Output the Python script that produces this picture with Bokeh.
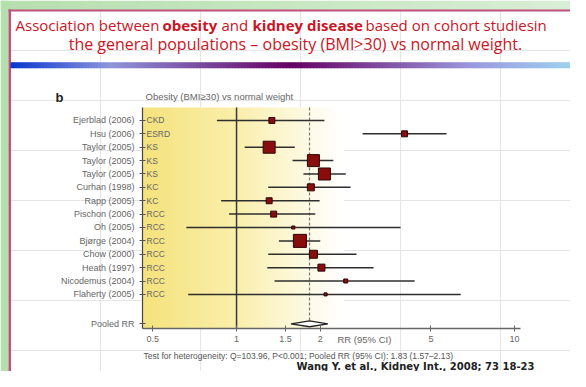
import math
from bokeh.plotting import figure
from bokeh.models import Range1d, FixedTicker, ColumnDataSource, LogAxis, LinearAxis, LogScale
from bokeh.core.properties import value
from bokeh.embed import file_html
from bokeh.resources import INLINE

# ---------------- data ----------------
studies = ["Ejerblad (2006)", "Hsu (2006)", "Taylor (2005)", "Taylor (2005)", "Taylor (2005)",
           "Curhan (1998)", "Rapp (2005)", "Pischon (2006)", "Oh (2005)", "Bjørge (2004)",
           "Chow (2000)", "Heath (1997)", "Nicodemus (2004)", "Flaherty (2005)"]
outcomes = ["CKD", "ESRD", "KS", "KS", "KS", "KC", "KC", "RCC", "RCC", "RCC",
            "RCC", "RCC", "RCC", "RCC"]
rr = [1.34, 4.02, 1.31, 1.89, 2.07, 1.85, 1.31, 1.36, 1.60, 1.69, 1.89, 2.02, 2.47, 2.09]
rr_lo = [0.85, 2.84, 1.07, 1.59, 1.74, 1.30, 0.88, 0.94, 0.66, 1.42, 1.30, 1.29, 1.37, 0.67]
rr_hi = [2.07, 5.69, 1.62, 2.23, 2.47, 2.57, 1.99, 1.92, 3.89, 2.00, 2.70, 3.11, 4.37, 6.40]
weights = [3.8, 3.8, 15.3, 15.3, 15.3, 5.2, 3.8, 3.8, 1.0, 18.0, 6.8, 5.2, 1.7, 1.0]
pooled_rr, pooled_lo, pooled_hi = 1.83, 1.57, 2.13
pooled_label = "Pooled RR"
x_ticks = [0.5, 1, 1.5, 2, 5, 10]
x_tick_labels = ["0.5", "1", "1.5", "2", "5", "10"]

title_parts = ["Association between", "obesity", "and", "kidney disease", "based on cohort studiesin"]
title_bold = [False, True, False, True, False]
title_line2 = "the general populations \u2013  obesity (BMI>30) vs normal weight."
panel_letter = "b"
panel_title = "Obesity (BMI\u226530) vs normal weight"
axis_title = "RR (95% CI)"
footer = "Test for heterogeneity: Q=103.96, P<0.001; Pooled RR (95% CI): 1.83 (1.57\u20132.13)"
citation = "Wang  Y. et al., Kidney Int., 2008; 73 18-23"

# ---------------- layout constants (pixels) ----------------
W, H = 570, 371
PX_L, PX_R = 142, 520          # forest plot area, horizontal
PY_T, PY_B = 107, 328          # forest plot area, vertical
RR_L, RR_R = 0.459, 10.5       # RR limits of the plot area
ROW_T, ROW_B = 0.03, 16.55     # row limits of the plot area
pooled_row = 16.2
rows = list(range(1, len(studies) + 1))

dec_per_px = (math.log10(RR_R) - math.log10(RR_L)) / (PX_R - PX_L)
rr_start = 10 ** (math.log10(RR_L) - PX_L * dec_per_px)
rr_end = 10 ** (math.log10(RR_L) + (W - PX_L) * dec_per_px)
row_per_px = (ROW_B - ROW_T) / (PY_B - PY_T)
rows_bottom = ROW_B + (H - PY_B) * row_per_px
rows_top = ROW_T - PY_T * row_per_px

p = figure(width=W, height=H, x_range=Range1d(0, W), y_range=Range1d(H, 0),
           x_axis_location=None, y_axis_location=None,
           output_backend="svg", toolbar_location=None, min_border=0)
p.extra_x_ranges = {"rr": Range1d(rr_start, rr_end)}
p.extra_x_scales = {"rr": LogScale()}
p.extra_y_ranges = {"rows": Range1d(rows_bottom, rows_top)}
p.outline_line_color = None
p.background_fill_color = "white"
p.border_fill_color = "white"

def hex2rgb(h):
    h = h.lstrip("#")
    return tuple(int(h[i:i + 2], 16) for i in (0, 2, 4))

def interp(stops, x):
    for (x0, c0), (x1, c1) in zip(stops[:-1], stops[1:]):
        if x0 <= x <= x1:
            t = (x - x0) / (x1 - x0) if x1 > x0 else 0
            a, b = hex2rgb(c0), hex2rgb(c1)
            return "#%02x%02x%02x" % tuple(int(round(a[i] + (b[i] - a[i]) * t)) for i in range(3))
    return stops[-1][1]

# ---------------- slide decorations (pixel space) ----------------
L, R, T, B, C = [], [], [], [], []
def box(l, r, t, b, c):
    L.append(l); R.append(r); T.append(t); B.append(b); C.append(c)

green_stops = [(0, "#b6dfae"), (586, "#d9eed6")]
for x in range(0, W, 10):
    box(x, x + 10.6, 0, 9.5, interp(green_stops, x + 5))
box(0, 8, 0, H, "#b6dfae")
box(8, 10.5, 9, H, "#c0507e")
box(8, W, 9, 11, "#c0507e")

bar_stops = [(10, "#0836d0"), (110, "#8f95dc"), (290, "#660062"), (470, "#9a98de"), (586, "#9fd9f2")]
for x in range(10, W, 3):
    box(x, x + 3.6, 61.7, 67.7, interp(bar_stops, x + 1.5))

yellow_stops = [(PX_L, "#f5e27c"), (240, "#faefae"), (340, "#ffffff")]
for x in range(PX_L, 342, 3):
    box(x, x + 3.6, PY_T, PY_B, interp(yellow_stops, x + 1.5))

p.quad(left=L, right=R, top=T, bottom=B, fill_color=C, line_color=None)

# ---------------- forest plot marks ----------------
sizes = [math.sqrt(w * 9.41) for w in weights]
src = ColumnDataSource(dict(row=rows, rr=rr, lo=rr_lo, hi=rr_hi, size=sizes, outcome=outcomes,
                            x0=[RR_L] * len(rows)))
kw = dict(x_range_name="rr", y_range_name="rows")

p.segment(x0=[1], y0=[ROW_T], x1=[1], y1=[ROW_B], line_color="#3a3a3a", line_width=1.5, **kw)
p.segment(x0=[pooled_rr], y0=[ROW_T], x1=[pooled_rr], y1=[pooled_row], line_color="#777777",
          line_width=1.2, line_dash="3 2", **kw)

p.segment(x0="lo", y0="row", x1="hi", y1="row", source=src, line_color="#2e2e2e", line_width=1.5, **kw)
p.scatter(x="rr", y="row", size="size", marker="square", source=src,
          fill_color="#8a0d0d", line_color="#2a0707", line_width=1, **kw)
p.patch(x=[pooled_lo, pooled_rr, pooled_hi, pooled_rr],
        y=[pooled_row, pooled_row - 0.22, pooled_row, pooled_row + 0.22],
        fill_color="white", line_color="#222222", line_width=1.3, **kw)

p.text(x="x0", y="row", text="outcome", source=src, x_offset=4, text_baseline="middle",
       text_font_size="8.5px", text_color="#666666", text_font=value("Liberation Sans"), **kw)

# ---------------- axes ----------------
xa = LogAxis(x_range_name="rr", y_range_name="rows", fixed_location=ROW_B, bounds=(RR_L, RR_R),
             ticker=FixedTicker(ticks=x_ticks))
xa.major_label_overrides = dict(zip(x_ticks, x_tick_labels))
xa.minor_tick_line_color = None
xa.axis_line_color = "#666666"
xa.axis_line_width = 1.5
xa.major_tick_line_color = "#666666"
xa.major_tick_in = 3
xa.major_tick_out = 3
xa.major_label_standoff = 4
xa.major_label_text_font_size = "9px"
xa.major_label_text_color = "#666666"
xa.major_label_text_font = "Liberation Sans"
p.add_layout(xa, "below")

ya = LinearAxis(y_range_name="rows", x_range_name="rr", fixed_location=RR_L, bounds=(ROW_T, ROW_B),
                ticker=FixedTicker(ticks=rows + [pooled_row]))
ov = {r: s for r, s in zip(rows, studies)}
ov[pooled_row] = pooled_label
ya.major_label_overrides = ov
ya.minor_tick_line_color = None
ya.axis_line_color = "#444444"
ya.axis_line_width = 1.2
ya.major_tick_line_color = "#555555"
ya.major_tick_in = 3
ya.major_tick_out = 3
ya.major_label_standoff = 5
ya.major_label_text_font_size = "9px"
ya.major_label_text_color = "#666666"
ya.major_label_text_font = "Liberation Sans"
p.add_layout(ya, "left")

# ---------------- texts (pixel space) ----------------
red = "#cc1424"
title_x = [15, 162, 221, 252, 365]
p.text(x=title_x, y=[24] * len(title_parts), text=title_parts,
       text_font_style=["bold" if b else "normal" for b in title_bold],
       text_font=value("Open Sans"), text_font_size="15px", text_color=red,
       text_baseline="middle", text_align="left")
p.text(x=[297], y=[43], text=[title_line2], text_font=value("Open Sans"), text_font_size="16px",
       text_color=red, text_baseline="middle", text_align="center")

p.text(x=[55], y=[97], text=[panel_letter], text_font=value("Liberation Sans"), text_font_style="bold",
       text_font_size="13px", text_color="#222222", text_baseline="middle")
p.text(x=[145], y=[96], text=[panel_title], text_font=value("Liberation Sans"),
       text_font_size="9.5px", text_color="#666666", text_baseline="middle")
p.text(x=[337], y=[339], text=[axis_title], text_font=value("Liberation Sans"),
       text_font_size="9.5px", text_color="#666666", text_baseline="middle")
p.text(x=[143], y=[355], text=[footer], text_font=value("Liberation Sans"),
       text_font_size="8.5px", text_color="#555555", text_baseline="middle")
p.text(x=[296], y=[365.5], text=[citation], text_font=value("DejaVu Sans"), text_font_style="bold",
       text_font_size="10px", text_color="#222222", text_baseline="middle")

open("out.html", "w").write(file_html(p, INLINE))
